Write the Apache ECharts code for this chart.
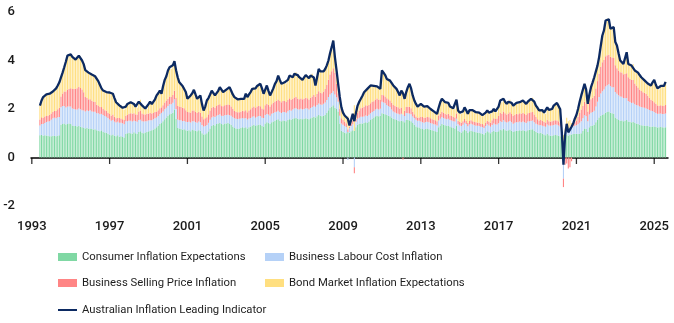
<!DOCTYPE html>
<html><head><meta charset="utf-8">
<script src="https://cdn.jsdelivr.net/npm/echarts@6/dist/echarts.min.js"></script>
<style>html,body{margin:0;padding:0;background:#fff}#c{width:674px;height:323px}</style>
</head><body><div id="c"></div>
<script>
// axis span (first and last month shown) and first month with data
const axisStart = [1993, 1];
const axisEnd = [2025, 9];
const dataStart = [1993, 6];
const tickYears = [1993, 1997, 2001, 2005, 2009, 2013, 2017, 2021, 2025];
const yTickValues = [-2, 0, 2, 4, 6];

const seriesNames = [
  'Consumer Inflation Expectations',
  'Business Labour Cost Inflation',
  'Business Selling Price Inflation',
  'Bond Market Inflation Expectations',
  'Australian Inflation Leading Indicator'
];

// monthly contributions, Jun 1993 - Aug 2025 (one row per year)
const consumerExp = [
0.92,0.93,0.90,0.92,0.91,0.90,0.88,
0.88,0.90,0.89,0.88,0.90,0.92,1.35,1.38,1.40,1.36,1.38,1.40,
1.38,1.32,1.30,1.30,1.28,1.30,1.27,1.25,1.22,1.20,1.22,1.18,
1.20,1.18,1.15,1.17,1.12,1.10,1.08,1.12,1.05,1.03,1.02,0.98,
0.95,0.92,0.95,0.90,0.88,0.92,0.86,0.88,0.85,0.82,0.98,1.00,
1.02,1.00,0.98,1.04,1.00,0.98,1.05,1.08,1.02,1.00,1.03,1.05,
1.08,1.10,1.12,1.15,1.20,1.25,1.30,1.38,1.42,1.50,1.58,1.65,
1.72,1.78,1.80,1.85,1.98,1.60,1.22,1.20,1.18,1.15,1.17,1.12,
1.10,1.12,1.08,1.15,1.12,1.10,1.08,1.12,1.10,1.00,0.95,0.96,
1.00,1.08,1.20,1.30,1.35,1.32,1.38,1.40,1.42,1.38,1.36,1.40,
1.40,1.42,1.38,1.35,1.28,1.22,1.20,1.18,1.20,1.22,1.25,1.22,
1.25,1.20,1.25,1.28,1.32,1.35,1.30,1.33,1.35,1.36,1.30,1.28,
1.40,1.45,1.42,1.38,1.45,1.48,1.52,1.55,1.58,1.52,1.50,1.53,
1.52,1.50,1.55,1.58,1.56,1.60,1.62,1.63,1.60,1.58,1.60,1.58,
1.60,1.62,1.60,1.58,1.62,1.65,1.68,1.65,1.70,1.75,1.72,1.70,
1.72,1.75,1.85,1.95,2.05,2.10,2.15,2.05,2.00,1.90,1.40,1.10,
1.05,1.02,1.00,1.05,1.02,1.08,1.12,1.10,1.25,1.35,1.38,1.40,
1.40,1.42,1.45,1.42,1.48,1.55,1.60,1.65,1.70,1.72,1.70,1.72,
1.82,1.80,1.78,1.75,1.72,1.70,1.65,1.60,1.58,1.55,1.52,1.50,
1.52,1.50,1.45,1.55,1.55,1.53,1.50,1.42,1.35,1.28,1.25,1.24,
1.20,1.18,1.15,1.18,1.20,1.17,1.15,1.12,1.10,1.08,1.05,1.25,
1.32,1.38,1.35,1.33,1.30,1.32,1.28,1.25,1.22,1.20,1.30,1.10,
1.05,1.02,1.08,1.15,1.10,1.02,1.08,1.10,1.08,1.05,1.04,1.03,
1.02,1.00,0.98,0.95,1.02,1.08,1.04,1.00,1.05,1.10,1.06,1.05,
1.08,1.15,1.12,1.18,1.12,1.10,1.12,1.15,1.10,1.05,1.08,1.10,
1.10,1.12,1.10,1.12,1.10,1.08,1.12,1.14,1.15,1.16,1.10,1.05,
1.02,1.00,1.02,0.98,0.95,0.92,0.98,0.92,0.90,0.90,0.92,0.93,
0.92,0.90,0.88,0.75,0.70,0.75,0.95,0.90,0.95,0.95,0.97,0.98,
0.98,0.97,0.98,1.00,1.10,1.20,1.18,1.05,1.25,1.30,1.32,1.35,
1.45,1.55,1.65,1.72,1.75,1.78,1.85,1.88,1.90,1.85,1.82,1.80,
1.65,1.60,1.55,1.52,1.53,1.50,1.52,1.55,1.48,1.47,1.45,1.46,
1.42,1.40,1.38,1.35,1.33,1.32,1.32,1.30,1.30,1.28,1.27,1.28,
1.28,1.26,1.24,1.25,1.26,1.25,1.24,1.25
];

const labourCost = [
0.40,0.45,0.48,0.50,0.55,0.58,0.62,
0.68,0.72,0.75,0.74,0.76,0.75,0.72,0.74,0.72,0.70,0.72,0.70,
0.72,0.70,0.70,0.68,0.70,0.72,0.72,0.70,0.72,0.70,0.72,0.74,
0.75,0.72,0.74,0.72,0.70,0.72,0.70,0.68,0.70,0.68,0.66,0.65,
0.62,0.60,0.60,0.58,0.56,0.55,0.57,0.55,0.56,0.55,0.52,0.50,
0.50,0.52,0.50,0.48,0.50,0.49,0.50,0.48,0.47,0.48,0.46,0.45,
0.45,0.44,0.42,0.43,0.42,0.40,0.41,0.40,0.42,0.40,0.41,0.40,
0.40,0.42,0.40,0.41,0.42,0.40,0.35,0.34,0.36,0.35,0.34,0.35,
0.36,0.35,0.36,0.35,0.37,0.36,0.35,0.36,0.35,0.34,0.33,0.34,
0.34,0.35,0.36,0.35,0.34,0.35,0.34,0.35,0.36,0.34,0.35,0.34,
0.35,0.34,0.36,0.37,0.38,0.40,0.40,0.41,0.40,0.39,0.38,0.39,
0.38,0.37,0.36,0.35,0.36,0.35,0.34,0.35,0.36,0.35,0.34,0.35,
0.35,0.34,0.35,0.34,0.35,0.36,0.35,0.34,0.35,0.36,0.34,0.35,
0.36,0.35,0.36,0.38,0.37,0.38,0.40,0.40,0.39,0.40,0.41,0.40,
0.40,0.41,0.42,0.40,0.42,0.43,0.45,0.44,0.46,0.48,0.47,0.48,
0.50,0.52,0.52,0.54,0.55,0.56,0.58,0.55,0.48,0.40,0.32,0.30,
0.30,0.28,0.26,-0.10,0.20,0.22,0.25,-0.40,0.22,0.25,0.26,0.28,
0.28,0.27,0.28,0.29,0.28,0.27,0.28,0.27,0.28,0.29,0.28,0.29,
0.48,0.47,0.46,0.42,0.40,0.38,0.33,0.30,0.28,0.27,0.28,0.27,
0.28,0.27,0.26,0.28,0.27,0.28,0.28,0.27,0.28,0.28,0.27,0.28,
0.28,0.27,0.28,0.28,0.27,0.28,0.27,0.28,0.27,0.28,0.27,0.28,
0.28,0.29,0.28,0.27,0.28,0.28,0.27,0.28,0.27,0.28,0.30,0.27,
0.27,0.28,0.27,0.28,0.28,0.27,0.28,0.29,0.28,0.28,0.27,0.28,
0.28,0.27,0.28,0.27,0.28,0.29,0.28,0.27,0.29,0.30,0.30,0.31,
0.33,0.35,0.34,0.36,0.35,0.34,0.35,0.36,0.35,0.34,0.35,0.36,
0.35,0.36,0.35,0.36,0.35,0.34,0.36,0.35,0.36,0.37,0.35,0.34,
0.34,0.33,0.32,0.33,0.34,0.35,0.38,0.40,0.41,0.42,0.42,0.43,
0.43,0.42,0.40,0.20,-0.87,0.15,0.25,0.25,0.28,0.30,0.32,0.33,
0.35,0.40,0.45,0.50,0.52,0.55,0.52,0.45,0.52,0.55,0.56,0.58,
0.65,0.75,0.85,0.92,0.98,1.02,1.08,1.10,1.12,1.10,1.08,1.10,
1.05,1.03,1.02,1.00,0.98,0.95,0.92,0.90,0.85,0.82,0.80,0.80,
0.78,0.77,0.76,0.75,0.75,0.74,0.73,0.72,0.70,0.68,0.66,0.64,
0.60,0.58,0.56,0.55,0.55,0.54,0.55,0.56
];

const sellingPrice = [
0.25,0.28,0.25,0.27,0.25,0.24,0.26,
0.25,0.26,0.28,0.30,0.33,0.38,0.45,0.52,0.60,0.66,0.70,0.72,
0.76,0.80,0.84,0.86,0.88,0.90,0.88,0.85,0.75,0.60,0.52,0.48,
0.45,0.44,0.42,0.40,0.36,0.32,0.30,0.28,0.25,0.24,0.25,0.22,
0.22,0.20,0.22,0.20,0.18,0.17,0.20,0.18,0.17,0.18,0.22,0.25,
0.28,0.30,0.32,0.30,0.28,0.30,0.35,0.38,0.32,0.30,0.28,0.30,
0.28,0.30,0.27,0.25,0.26,0.25,0.24,0.25,0.23,0.25,0.28,0.30,
0.30,0.32,0.30,0.32,0.35,0.45,0.55,0.56,0.54,0.55,0.52,0.48,
0.42,0.40,0.42,0.44,0.45,0.42,0.40,0.41,0.40,0.35,0.30,0.32,
0.32,0.35,0.38,0.40,0.40,0.38,0.40,0.42,0.42,0.40,0.40,0.41,
0.42,0.43,0.42,0.38,0.35,0.30,0.29,0.28,0.27,0.28,0.30,0.30,
0.32,0.30,0.33,0.36,0.38,0.40,0.40,0.42,0.41,0.40,0.38,0.36,
0.40,0.42,0.40,0.38,0.40,0.42,0.44,0.45,0.46,0.45,0.44,0.45,
0.45,0.44,0.46,0.48,0.45,0.44,0.45,0.46,0.44,0.42,0.42,0.42,
0.42,0.43,0.42,0.41,0.42,0.44,0.45,0.42,0.46,0.50,0.48,0.47,
0.50,0.55,0.62,0.72,0.82,0.90,0.95,0.88,0.55,0.35,0.28,0.22,
0.20,0.18,0.15,0.12,0.05,0.10,0.15,-0.25,0.12,0.25,0.30,0.35,
0.38,0.40,0.42,0.41,0.40,0.42,0.42,0.40,0.41,0.42,0.40,0.38,
0.28,0.30,0.28,0.27,0.28,0.27,0.28,0.27,0.26,0.28,0.27,0.25,
0.26,-0.08,0.22,0.25,0.27,0.28,0.25,0.20,0.15,0.13,0.12,0.13,
0.20,0.22,0.20,0.19,0.20,0.21,0.20,0.18,0.19,0.18,0.17,0.20,
0.20,0.22,0.21,0.20,0.19,0.20,0.18,0.19,0.18,0.17,0.22,0.15,
0.14,0.13,0.15,0.16,0.14,0.13,0.15,0.15,0.14,0.13,0.14,0.13,
0.13,0.12,0.12,0.11,0.14,0.15,0.16,0.17,0.20,0.22,0.23,0.25,
0.30,0.35,0.34,0.36,0.35,0.33,0.34,0.36,0.34,0.32,0.33,0.34,
0.33,0.34,0.35,0.36,0.34,0.33,0.34,0.35,0.36,0.35,0.32,0.28,
0.22,0.20,0.21,0.20,0.18,0.17,0.20,0.18,0.17,0.18,0.19,0.18,
0.18,0.17,0.15,0.05,-0.35,-0.30,-0.25,-0.45,-0.40,-0.15,0.05,0.15,
0.20,0.30,0.40,0.48,0.50,0.55,0.52,0.40,0.50,0.55,0.58,0.62,
0.75,0.85,0.95,1.10,1.20,1.22,1.25,1.24,1.22,1.20,1.22,1.20,
1.10,1.05,1.02,1.00,1.00,0.98,1.00,1.02,0.98,0.96,0.95,0.94,
0.85,0.80,0.75,0.70,0.66,0.63,0.62,0.60,0.55,0.50,0.45,0.42,
0.40,0.38,0.35,0.33,0.34,0.33,0.34,0.35
];

const bondMarket = [
0.57,0.69,0.86,0.86,0.89,0.86,0.87,
0.84,0.84,0.84,0.93,0.98,1.05,0.78,0.86,1.00,1.23,1.40,1.43,
1.39,1.33,1.26,1.20,1.22,1.28,1.31,1.20,1.16,1.10,1.09,1.10,
1.05,1.08,1.07,1.06,1.12,1.01,0.92,0.77,0.76,0.77,0.77,0.84,
0.89,0.93,0.86,0.77,0.66,0.56,0.52,0.53,0.47,0.42,0.38,0.46,
0.45,0.46,0.40,0.39,0.32,0.28,0.40,0.44,0.34,0.29,0.25,0.20,
0.39,0.47,0.39,0.42,0.52,0.66,0.70,0.73,0.56,0.80,0.93,1.00,
1.17,1.20,1.15,1.22,1.22,1.15,1.19,1.00,0.96,0.90,0.87,0.75,
0.54,0.63,0.70,0.71,0.85,0.72,0.59,0.61,0.71,0.51,0.36,0.48,
0.69,0.67,0.66,0.71,0.61,0.51,0.48,0.58,0.70,0.68,0.59,0.60,
0.63,0.66,0.74,0.65,0.59,0.57,0.56,0.53,0.51,0.53,0.52,0.51,
0.68,0.62,0.66,0.71,0.77,0.80,0.81,0.85,0.88,0.93,0.83,0.64,
0.65,0.76,0.58,0.46,0.50,0.59,0.73,0.81,0.99,0.87,0.76,0.77,
0.77,0.76,0.83,0.94,0.92,0.89,0.98,1.03,0.97,0.91,0.82,0.80,
0.88,0.94,0.91,0.88,0.92,0.93,0.72,0.46,0.68,0.92,0.88,0.87,
0.83,0.83,0.81,0.79,0.88,0.99,1.14,0.66,0.57,0.39,0.50,0.45,
0.30,0.25,0.24,0.53,0.05,0.15,0.28,1.05,0.26,0.29,0.36,0.39,
0.49,0.60,0.60,0.71,0.74,0.73,0.67,0.63,0.58,0.50,0.47,0.44,
1.01,0.93,0.88,0.80,0.80,0.82,0.84,0.80,0.78,0.73,0.63,0.54,
0.70,0.96,0.49,0.62,0.81,0.95,0.82,0.67,0.57,0.52,0.46,0.42,
0.53,0.47,0.47,0.42,0.45,0.42,0.38,0.36,0.34,0.31,0.31,0.32,
0.48,0.53,0.51,0.48,0.44,0.45,0.37,0.35,0.36,0.35,0.56,0.42,
0.39,0.37,0.40,0.48,0.43,0.38,0.44,0.46,0.45,0.44,0.42,0.41,
0.42,0.41,0.37,0.40,0.41,0.42,0.37,0.36,0.36,0.38,0.31,0.26,
0.39,0.50,0.48,0.52,0.48,0.44,0.49,0.51,0.46,0.43,0.44,0.45,
0.44,0.46,0.50,0.51,0.51,0.46,0.48,0.51,0.55,0.58,0.53,0.47,
0.47,0.41,0.45,0.44,0.38,0.36,0.51,0.46,0.50,0.50,0.61,0.66,
0.72,0.71,0.56,0.04,0.22,0.30,0.44,0.34,0.32,0.17,0.06,0.14,
0.22,0.33,0.47,0.58,0.68,0.74,0.58,0.31,0.33,0.50,0.64,0.76,
0.70,0.64,0.69,0.86,1.10,1.22,1.47,1.50,1.46,1.16,1.23,1.28,
0.96,0.94,0.71,0.48,0.42,0.43,0.66,0.87,0.55,0.55,0.59,0.65,
0.54,0.58,0.61,0.60,0.57,0.56,0.51,0.48,0.50,0.54,0.59,0.76,
0.92,0.78,0.70,0.67,0.80,0.88,0.82,0.96
];

const leadingIndicator = [
2.14,2.35,2.49,2.55,2.60,2.58,2.63,
2.65,2.72,2.76,2.85,2.97,3.10,3.30,3.50,3.72,3.95,4.20,4.25,
4.25,4.15,4.10,4.04,4.08,4.20,4.18,4.00,3.85,3.60,3.55,3.50,
3.45,3.42,3.38,3.35,3.30,3.15,3.00,2.85,2.76,2.72,2.70,2.69,
2.68,2.65,2.63,2.45,2.28,2.20,2.15,2.14,2.05,1.97,2.10,2.21,
2.25,2.28,2.20,2.21,2.10,2.05,2.30,2.38,2.15,2.07,2.02,2.00,
2.20,2.31,2.20,2.25,2.40,2.56,2.65,2.76,2.63,2.95,3.20,3.35,
3.59,3.72,3.65,3.80,3.97,3.60,3.31,3.10,3.04,2.95,2.90,2.70,
2.42,2.50,2.56,2.65,2.79,2.60,2.42,2.50,2.56,2.20,1.94,2.10,
2.35,2.45,2.60,2.76,2.70,2.56,2.60,2.75,2.90,2.80,2.70,2.75,
2.80,2.85,2.90,2.75,2.60,2.49,2.45,2.40,2.38,2.42,2.45,2.42,
2.63,2.49,2.60,2.70,2.83,2.90,2.85,2.95,3.00,3.04,2.85,2.63,
2.80,2.97,2.75,2.56,2.70,2.85,3.04,3.15,3.38,3.20,3.04,3.10,
3.10,3.05,3.20,3.38,3.30,3.31,3.45,3.52,3.40,3.31,3.25,3.20,
3.30,3.40,3.35,3.27,3.38,3.45,3.30,2.97,3.30,3.65,3.55,3.52,
3.55,3.65,3.80,4.00,4.30,4.55,4.82,4.14,3.60,3.04,2.50,2.07,
1.85,1.73,1.65,1.60,1.32,1.55,1.80,1.50,1.85,2.14,2.30,2.42,
2.55,2.69,2.75,2.83,2.90,2.97,2.97,2.95,2.97,2.93,2.85,2.83,
3.59,3.50,3.40,3.24,3.20,3.17,3.10,2.97,2.90,2.83,2.70,2.56,
2.76,2.65,2.42,2.70,2.90,3.04,2.85,2.56,2.35,2.21,2.10,2.07,
2.21,2.14,2.10,2.07,2.12,2.08,2.00,1.94,1.90,1.85,1.80,2.05,
2.28,2.42,2.35,2.28,2.21,2.25,2.10,2.07,2.03,2.00,2.38,1.94,
1.85,1.80,1.90,2.07,1.95,1.80,1.95,2.00,1.95,1.90,1.87,1.85,
1.85,1.80,1.75,1.73,1.85,1.94,1.85,1.80,1.90,2.00,1.90,1.87,
2.10,2.35,2.28,2.42,2.30,2.21,2.30,2.38,2.25,2.14,2.20,2.25,
2.22,2.28,2.30,2.35,2.30,2.21,2.30,2.35,2.42,2.46,2.30,2.14,
2.05,1.94,2.00,1.95,1.85,1.80,2.07,1.96,1.98,2.00,2.14,2.20,
2.25,2.20,1.99,1.04,-0.30,0.90,1.39,1.04,1.15,1.27,1.40,1.60,
1.75,2.00,2.30,2.56,2.80,3.04,2.80,2.21,2.60,2.90,3.10,3.31,
3.55,3.79,4.14,4.60,5.03,5.24,5.65,5.72,5.70,5.31,5.35,5.38,
4.76,4.62,4.30,4.00,3.93,3.86,4.10,4.34,3.86,3.80,3.79,3.85,
3.59,3.55,3.50,3.40,3.31,3.25,3.18,3.10,3.05,3.00,2.97,3.10,
3.20,3.00,2.85,2.80,2.95,3.00,2.95,3.12
];

// ---- build categories (one per month on the axis) ----
const categories = [];
{
  let y = axisStart[0], m = axisStart[1];
  while (y < axisEnd[0] || (y === axisEnd[0] && m <= axisEnd[1])) {
    categories.push(y + '-' + (m < 10 ? '0' : '') + m);
    m++; if (m > 12) { m = 1; y++; }
  }
}
const leadPad = (dataStart[0] - axisStart[0]) * 12 + (dataStart[1] - axisStart[1]);
function pad(arr) {
  const out = new Array(leadPad).fill(null).concat(arr);
  while (out.length < categories.length) out.push(null);
  return out;
}
const isTick = (i) => {
  const c = categories[i];
  return c.slice(5) === '01' && tickYears.indexOf(+c.slice(0, 4)) >= 0;
};
// tick marks on the zero line, placed through the category axis
const tickMarks = tickYears.map(y => [categories.indexOf(y + '-01'), 0]);

const colors = ['#80d8a4', '#b5d1f7', '#ff8585', '#ffdf80'];
const lineColor = '#0c2a62';
const font = 'Roboto';

const barData = [consumerExp, labourCost, sellingPrice, bondMarket];
const series = barData.map((arr, k) => ({
  name: seriesNames[k],
  type: 'bar',
  stack: 'total',
  data: pad(arr),
  barWidth: '68%',
  itemStyle: { color: colors[k] },
  emphasis: { disabled: true },
  z: 2
}));
series.push({
  name: seriesNames[4],
  type: 'line',
  data: pad(leadingIndicator),
  showSymbol: false,
  symbol: 'none',
  lineStyle: { color: lineColor, width: 2.3 },
  itemStyle: { color: lineColor },
  connectNulls: false,
  z: 5
});
series.push({
  name: 'axis ticks',
  type: 'scatter',
  data: tickMarks,
  symbol: 'rect',
  symbolSize: [1.3, 6],
  symbolOffset: [0, 3.5],
  itemStyle: { color: '#000' },
  silent: true,
  z: 6
});

const legendBase = {
  orient: 'horizontal', padding: 0, itemGap: 0,
  itemWidth: 19, itemHeight: 8, selectedMode: false,
  textStyle: { fontFamily: font, fontSize: 11.3, color: '#1e1e1e', lineHeight: 14 }
};
const chart = echarts.init(document.getElementById('c'), null, { renderer: 'canvas' });
chart.setOption({
  animation: false,
  backgroundColor: '#fff',
  grid: { left: 31, right: 6, top: 12, bottom: 117, containLabel: false },
  legend: [
    Object.assign({}, legendBase, { left: 58, top: 250, data: [{ name: seriesNames[0], icon: 'rect' }] }),
    Object.assign({}, legendBase, { left: 265, top: 250, data: [{ name: seriesNames[1], icon: 'rect' }] }),
    Object.assign({}, legendBase, { left: 58, top: 276, data: [{ name: seriesNames[2], icon: 'rect' }] }),
    Object.assign({}, legendBase, { left: 265, top: 276, data: [{ name: seriesNames[3], icon: 'rect' }] }),
    Object.assign({}, legendBase, { left: 58, top: 303, itemHeight: 2, data: [{ name: seriesNames[4], icon: 'rect' }] })
  ],
  xAxis: {
    type: 'category',
    data: categories,
    boundaryGap: true,
    axisLine: { onZero: true, lineStyle: { color: '#000', width: 1.5 } },
    axisTick: { show: false },
    axisLabel: {
      interval: (i) => isTick(i),
      formatter: (v) => v.slice(0, 4),
      margin: 14, fontFamily: font, fontSize: 13, fontWeight: 500, color: '#1a1a1a'
    },
    splitLine: { show: false }
  },
  yAxis: {
    type: 'value',
    min: yTickValues[0], max: yTickValues[yTickValues.length - 1], interval: 2,
    axisLine: { show: false }, axisTick: { show: false }, splitLine: { show: false },
    axisLabel: { margin: 16, fontFamily: font, fontSize: 13, fontWeight: 500, color: '#1a1a1a' }
  },
  series: series
});
</script></body></html>
